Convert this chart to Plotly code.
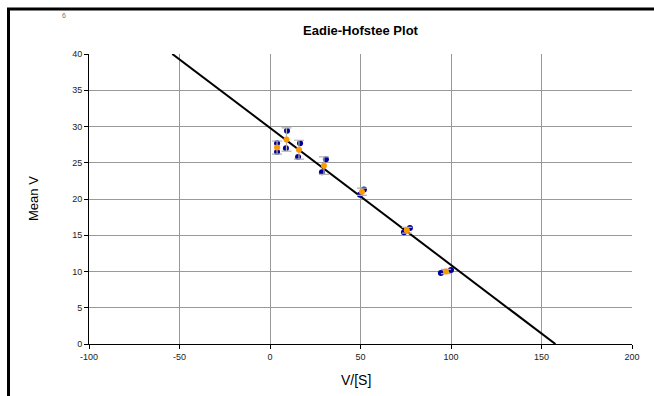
import plotly.graph_objects as go

# Individual replicate points (V/[S], V)
rep_x = [3.9, 3.9, 9.4, 8.8, 16.6, 15.5, 30.9, 28.7, 51.9, 49.7, 77.3, 74.0, 94.4, 100.0]
rep_y = [27.7, 26.5, 29.4, 27.0, 27.7, 25.8, 25.5, 23.7, 21.3, 20.6, 16.0, 15.4, 9.8, 10.2]

# Group means with error
mean_x = [3.9, 9.1, 16.0, 29.8, 50.8, 75.6, 97.2]
mean_y = [27.1, 28.2, 26.8, 24.6, 21.0, 15.7, 10.0]
mean_err = [0.9, 1.6, 1.3, 1.2, 0.5, 0.4, 0.3]

# Fitted line: V = Vmax - Km * V/[S]
fit_vmax = 29.8
fit_km = 0.189
line_x = [-54.0, 157.7]
line_y = [fit_vmax - fit_km * x for x in line_x]

x_ticks = [-100, -50, 0, 50, 100, 150, 200]
y_ticks = [0, 5, 10, 15, 20, 25, 30, 35, 40]

W, H = 654, 396
L, R, T, B = 89, 632, 54, 344
pw, ph = R - L, B - T

def px(x):
    return (x - L) / pw

def py(y):
    return (B - y) / ph

fig = go.Figure()
fig.add_trace(go.Scatter(x=line_x, y=line_y, mode="lines",
                         line=dict(color="black", width=2), hoverinfo="skip"))
fig.add_trace(go.Scatter(x=rep_x, y=rep_y, mode="markers",
                         marker=dict(color="#000099", size=6)))
fig.add_trace(go.Scatter(x=mean_x, y=mean_y, mode="markers",
                         marker=dict(color="#FF9900", size=6),
                         error_y=dict(type="data", array=mean_err, visible=True,
                                      color="#b0b0b0", thickness=1.2, width=5)))

axis_font = dict(family="Liberation Sans, Arial", size=9, color="#222")
fig.update_xaxes(range=[-100, 200], tickvals=x_ticks, ticktext=[str(v) for v in x_ticks],
                 showgrid=True, gridcolor="#999999", gridwidth=1, zeroline=False,
                 showline=True, linecolor="black", linewidth=1,
                 ticks="outside", ticklen=4, tickcolor="black", tickfont=axis_font)
fig.update_yaxes(range=[0, 40], tickvals=y_ticks, ticktext=[str(v) for v in y_ticks],
                 showgrid=True, gridcolor="#999999", gridwidth=1, zeroline=False,
                 showline=True, linecolor="black", linewidth=1,
                 ticks="outside", ticklen=4, tickcolor="black", tickfont=axis_font)

fig.update_layout(
    width=W, height=H,
    margin=dict(l=L, r=W - R, t=T, b=H - B),
    paper_bgcolor="white", plot_bgcolor="white",
    showlegend=False,
    title=dict(text="<b>Eadie-Hofstee Plot</b>", x=0.5, xref="paper",
               y=1 - 30 / H, yref="container", yanchor="middle", xanchor="center",
               font=dict(family="Liberation Sans, Arial", size=13, color="black")),
    annotations=[
        dict(text="V/[S]", x=px(356), y=py(380), xref="paper", yref="paper",
             xanchor="center", yanchor="middle",
             showarrow=False, font=dict(family="Liberation Sans, Arial", size=14, color="black")),
        dict(text="Mean V", x=px(33), y=py(199), xref="paper", yref="paper", textangle=-90,
             xanchor="center", yanchor="middle",
             showarrow=False, font=dict(family="Liberation Sans, Arial", size=13, color="black")),
        dict(text="6", x=px(64), y=py(15), xref="paper", yref="paper",
             xanchor="center", yanchor="middle",
             showarrow=False, font=dict(family="Liberation Sans, Arial", size=7, color="#777")),
    ],
    shapes=[
        dict(type="line", xref="paper", yref="paper", x0=px(7), x1=px(660), y0=py(9), y1=py(9),
             line=dict(color="black", width=3)),
        dict(type="line", xref="paper", yref="paper", x0=px(8.5), x1=px(8.5), y0=py(8), y1=py(400),
             line=dict(color="black", width=3)),
    ],
)

fig.write_html("out.html", config={"displayModeBar": False},
               post_script="document.body.style.margin='0';document.body.style.overflow='hidden';")
